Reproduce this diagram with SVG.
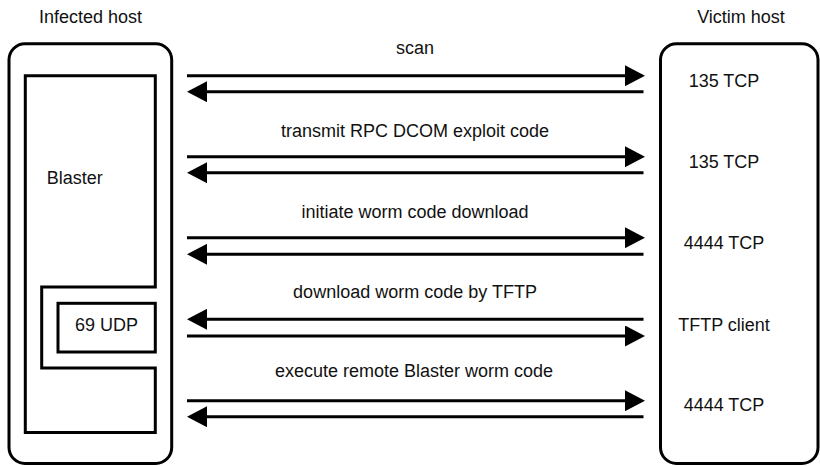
<svg xmlns="http://www.w3.org/2000/svg" width="820" height="466" viewBox="0 0 820 466">
<style>
text{font-family:"Liberation Sans",Arial,sans-serif;font-size:18px;fill:#111}
.c{text-anchor:middle}
.box{fill:none;stroke:#000;stroke-width:3}
.ln{stroke:#000;stroke-width:3;fill:none}
</style>
<defs>
<marker id="ah" markerUnits="userSpaceOnUse" markerWidth="20" markerHeight="21" viewBox="0 0 20 21" refX="2" refY="10.5" orient="auto">
<path d="M0,0 L20,10.5 L0,21 Z" fill="#000"/>
</marker>
</defs>
<g id="infected-host">
<rect class="box" x="9" y="43.8" width="162.7" height="419.7" rx="16"/>
<text class="c" x="90.5" y="22.5">Infected host</text>
</g>
<g id="blaster">
<path class="box" d="M25.3,75.7 H155.3 V287 H41.7 V368 H155.3 V432.5 H25.3 Z"/>
<text x="46.7" y="184">Blaster</text>
</g>
<g id="udp69">
<rect class="box" x="58" y="303.3" width="97.3" height="48.7"/>
<text class="c" x="106.5" y="330.7">69 UDP</text>
</g>
<g id="victim-host">
<rect class="box" x="660.5" y="43.8" width="157.5" height="419.7" rx="16"/>
<text class="c" x="741" y="22.5">Victim host</text>
<text class="c" x="724" y="86.7">135 TCP</text>
<text class="c" x="724" y="167.7">135 TCP</text>
<text class="c" x="724" y="249.3">4444 TCP</text>
<text class="c" x="724" y="330.7">TFTP client</text>
<text class="c" x="724" y="411">4444 TCP</text>
</g>
<g id="connectors">
<line class="ln" x1="187" y1="75.7" x2="627" y2="75.7" marker-end="url(#ah)"/>
<line class="ln" x1="643.5" y1="91.7" x2="205" y2="91.7" marker-end="url(#ah)"/>
<line class="ln" x1="187" y1="156.7" x2="627" y2="156.7" marker-end="url(#ah)"/>
<line class="ln" x1="643.5" y1="172.7" x2="205" y2="172.7" marker-end="url(#ah)"/>
<line class="ln" x1="187" y1="237.7" x2="627" y2="237.7" marker-end="url(#ah)"/>
<line class="ln" x1="643.5" y1="254.3" x2="205" y2="254.3" marker-end="url(#ah)"/>
<line class="ln" x1="643.5" y1="319.3" x2="205" y2="319.3" marker-end="url(#ah)"/>
<line class="ln" x1="187" y1="336" x2="627" y2="336" marker-end="url(#ah)"/>
<line class="ln" x1="187" y1="400.7" x2="627" y2="400.7" marker-end="url(#ah)"/>
<line class="ln" x1="643.5" y1="416.7" x2="205" y2="416.7" marker-end="url(#ah)"/>
<text class="c" x="415" y="54">scan</text>
<text class="c" x="415" y="137">transmit RPC DCOM exploit code</text>
<text class="c" x="415" y="217.7">initiate worm code download</text>
<text class="c" x="415" y="298.3">download worm code by TFTP</text>
<text class="c" x="414" y="377.3">execute remote Blaster worm code</text>
</g>
</svg>
